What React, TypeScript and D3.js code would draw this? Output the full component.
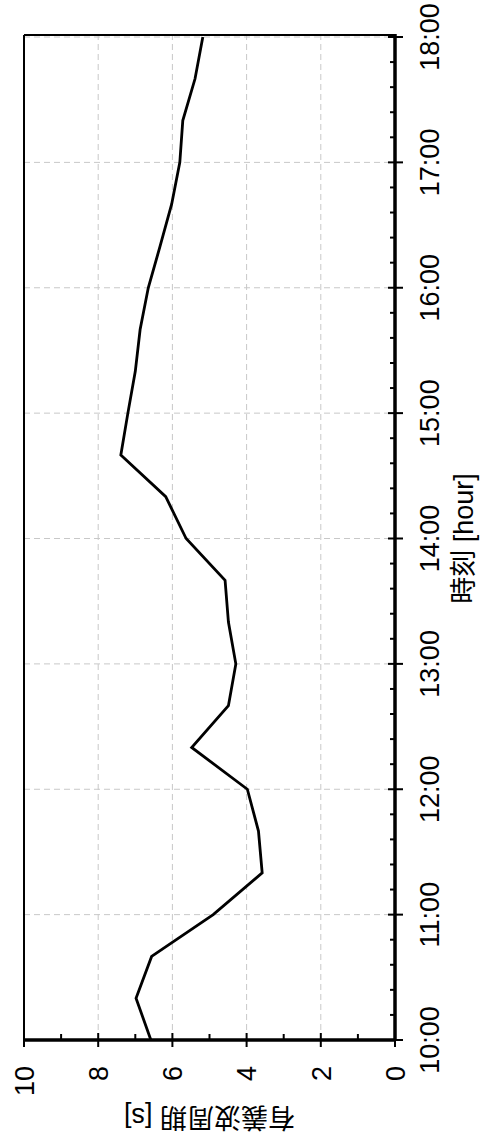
import React from "react";
import * as d3 from "d3";

// Significant wave period observed every 20 minutes
const times = [
  "10:00", "10:20", "10:40", "11:00", "11:20", "11:40", "12:00", "12:20", "12:40",
  "13:00", "13:20", "13:40", "14:00", "14:20", "14:40", "15:00", "15:20", "15:40",
  "16:00", "16:20", "16:40", "17:00", "17:20", "17:40", "18:00",
];
const periods = [
  6.58, 6.98, 6.56, 4.9, 3.58, 3.68, 3.98, 5.48, 4.49,
  4.29, 4.49, 4.58, 5.63, 6.18, 7.39, 7.2, 7.0, 6.87,
  6.65, 6.33, 6.02, 5.8, 5.72, 5.39, 5.18,
];
const hourTicks = [10, 11, 12, 13, 14, 15, 16, 17, 18];
const valueTicks = [0, 2, 4, 6, 8, 10];
const xTitle = "時刻 [hour]";
const yTitle = "有義波周期 [s]";

const toHours = (t: string) => {
  const [h, m] = t.split(":").map(Number);
  return h + m / 60;
};
const fmtHour = (h: number) => `${h}:00`;

const W = 480;
const H = 1146;
const textStyle: React.CSSProperties = {
  fontFamily: "Arial, 'Liberation Sans', Helvetica, 'Noto Sans CJK JP', sans-serif",
  fontSize: "27px",
};

export default function App() {
  // Chart is laid out in its own frame and then turned a quarter turn.
  const x = d3.scaleLinear().domain([10, 18]).range([106, 1109]);
  const y = d3.scaleLinear().domain([0, 10]).range([395, 24]);
  const left = x(10);
  const right = 1111;
  const top = y(10);
  const bottom = y(0);

  const data = times.map((t, i) => ({ h: toHours(t), v: periods[i] }));
  const line = d3
    .line<{ h: number; v: number }>()
    .x((d) => x(d.h))
    .y((d) => y(d.v));

  const minorHours = d3.range(10, 18.0001, 0.2).filter((h) => Math.abs(h - Math.round(h)) > 1e-6);
  const minorValues = [1, 3, 5, 7, 9];
  const grid = "#c8c8c8";

  return (
    <svg width={W} height={H} style={{ position: "absolute", left: 0, top: 0, background: "#fff" }}>
      <g transform={`translate(0,${H}) rotate(-90)`}>
        {/* grid */}
        {hourTicks.slice(1).map((h) => (
          <line key={"gx" + h} x1={x(h)} x2={x(h)} y1={top} y2={bottom} stroke={grid} strokeWidth={1} strokeDasharray="6,4" />
        ))}
        {valueTicks.slice(1, -1).map((v) => (
          <line key={"gy" + v} x1={left} x2={right} y1={y(v)} y2={y(v)} stroke={grid} strokeWidth={1} strokeDasharray="6,4" />
        ))}

        {/* frame */}
        <line x1={left} x2={right} y1={top} y2={top} stroke="#000" strokeWidth={2} />
        <line x1={right} x2={right} y1={top} y2={bottom} stroke="#000" strokeWidth={2} />

        {/* data */}
        <path d={line(data) || ""} fill="none" stroke="#000" strokeWidth={2.8} strokeLinejoin="miter" />

        {/* x axis */}
        <line x1={left - 1} x2={right + 1} y1={bottom} y2={bottom} stroke="#000" strokeWidth={3.5} />
        {hourTicks.map((h) => (
          <line key={"tx" + h} x1={x(h)} x2={x(h)} y1={bottom - 7} y2={bottom + 8} stroke="#000" strokeWidth={2} />
        ))}
        {minorHours.map((h) => (
          <line key={"mx" + h} x1={x(h)} x2={x(h)} y1={bottom - 5} y2={bottom} stroke="#000" strokeWidth={2} />
        ))}
        {hourTicks.map((h) => (
          <text key={"lx" + h} x={x(h)} y={439} style={textStyle} textAnchor="middle" fill="#000">
            {fmtHour(h)}
          </text>
        ))}
        <text x={(x(10) + x(18)) / 2} y={473} style={textStyle} textAnchor="middle" fill="#000">
          {xTitle}
        </text>

        {/* y axis */}
        <line x1={left} x2={left} y1={top - 1} y2={bottom + 1} stroke="#000" strokeWidth={3.5} />
        {valueTicks.map((v) => (
          <line key={"ty" + v} x1={left - 7} x2={left + 7} y1={y(v)} y2={y(v)} stroke="#000" strokeWidth={2} />
        ))}
        {minorValues.map((v) => (
          <line key={"my" + v} x1={left} x2={left + 6} y1={y(v)} y2={y(v)} stroke="#000" strokeWidth={2} />
        ))}
        {valueTicks.map((v) => (
          <text key={"ly" + v} x={80} y={y(v)} dy="0.36em" style={textStyle} textAnchor="end" fill="#000">
            {v}
          </text>
        ))}
        <text
          transform={`translate(38,${(y(0) + y(10)) / 2}) rotate(-90)`}
          style={textStyle}
          textAnchor="middle"
          fill="#000"
        >
          {yTitle}
        </text>
      </g>
    </svg>
  );
}
